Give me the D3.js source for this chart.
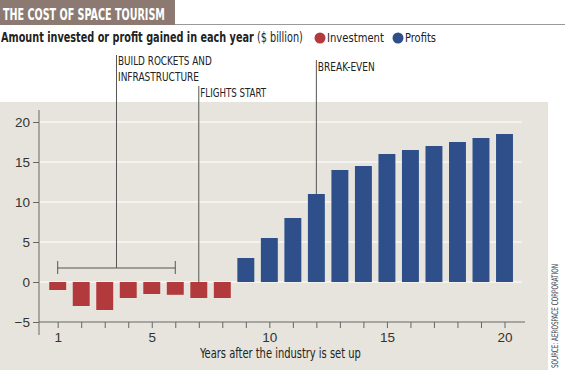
<!DOCTYPE html>
<html>
<head>
<meta charset="utf-8">
<script src="https://cdn.jsdelivr.net/npm/d3@7"></script>
<style>
  body { margin: 0; background: #fff; }
  svg { display: block; font-family: "DejaVu Sans Condensed", "Liberation Sans Narrow", sans-serif; }
</style>
</head>
<body>
<div id="chart"></div>
<script>
// Data
var years = d3.range(1, 21);
var values = [-1, -3, -3.5, -2, -1.5, -1.6, -2, -2, 3, 5.5, 8, 11, 14, 14.5, 16, 16.5, 17, 17.5, 18, 18.5];
var yTicks = [-5, 0, 5, 10, 15, 20];
var xLabels = [1, 5, 10, 15, 20];
var seriesNames = ["Investment", "Profits"];
var seriesColors = ["#b23a3c", "#2f4f8a"];

var width = 565;
var height = 370;

var svg = d3.select("#chart").append("svg")
  .attr("width", width)
  .attr("height", height);

// place a text at (x, y) and squeeze it horizontally to the width it has in print
function label(parent, x, y, w, size, rot) {
  var t = parent.append("text").attr("font-size", size).attr("fill", "#222");
  t.fit = function() {
    var natural = t.node().getComputedTextLength();
    var s = w / natural;
    t.attr("transform", "translate(" + x + "," + y + ")" +
      (rot ? " rotate(" + rot + ")" : "") + " scale(" + s + ",1)");
    return t;
  };
  return t;
}

// Header
svg.append("rect")
  .attr("x", 0).attr("y", 0)
  .attr("width", 175).attr("height", 25)
  .attr("fill", "#8c7a72");
svg.append("line")
  .attr("x1", 175).attr("x2", width)
  .attr("y1", 24.5).attr("y2", 24.5)
  .attr("stroke", "#9a9a9a");
label(svg, 3, 20, 162, 16)
  .attr("fill", "#fff")
  .attr("font-weight", "bold")
  .text("THE COST OF SPACE TOURISM")
  .fit();

var sub = label(svg, 1, 42, 302, 13.5);
sub.append("tspan").attr("font-weight", "bold").text("Amount invested or profit gained in each year");
sub.append("tspan").text(" ($ billion)");
sub.fit();

// Legend
var legend = svg.append("g").attr("class", "legend");
var legendX = [320, 398];
var legendW = [57, 31];
seriesNames.forEach(function(name, i) {
  legend.append("circle")
    .attr("cx", legendX[i]).attr("cy", 38)
    .attr("r", 5.5)
    .attr("fill", seriesColors[i]);
  label(legend, legendX[i] + 7, 42, legendW[i], 13).text(name).fit();
});

// Panel
svg.append("rect")
  .attr("x", 0).attr("y", 102)
  .attr("width", 548).attr("height", height - 102)
  .attr("fill", "#e6e4dc");

// Scales
var x = d3.scaleLinear().domain([1, 20]).range([57.7, 504.5]);
var step = x(2) - x(1);
var barW = step * 0.72;
var y = d3.scaleLinear().domain([-5, 20]).range([322, 122]);

// Grid
svg.append("g").selectAll("line")
  .data(yTicks.filter(function(d) { return d > -5; }))
  .join("line")
  .attr("x1", 39).attr("x2", 522)
  .attr("y1", function(d) { return y(d); })
  .attr("y2", function(d) { return y(d); })
  .attr("stroke", "#fff")
  .attr("stroke-width", 1.2);

// Bars
svg.append("g").selectAll("rect")
  .data(values)
  .join("rect")
  .attr("x", function(d, i) { return x(years[i]) - barW / 2; })
  .attr("width", barW)
  .attr("y", function(d) { return y(Math.max(0, d)); })
  .attr("height", function(d) { return Math.abs(y(d) - y(0)); })
  .attr("fill", function(d) { return d < 0 ? seriesColors[0] : seriesColors[1]; });

// Y axis
var yAxis = d3.axisLeft(y).tickValues(yTicks).tickSize(6).tickPadding(3).tickFormat(d3.format("d"));
var gy = svg.append("g").attr("transform", "translate(39,0)").call(yAxis);
gy.select(".domain").remove();
gy.append("line").attr("x1", 0).attr("x2", 0).attr("y1", 110).attr("y2", 335).attr("stroke", "#666");
gy.selectAll(".tick line").attr("stroke", "#666");
gy.selectAll(".tick text").attr("font-size", 13.5).attr("fill", "#333").attr("font-family", null);

// X axis
var xAxis = d3.axisBottom(x).tickValues(years).tickSize(6).tickPadding(4)
  .tickFormat(function(d) { return xLabels.indexOf(d) >= 0 ? d : ""; });
var gx = svg.append("g").attr("transform", "translate(0,322)").call(xAxis);
gx.select(".domain").remove();
gx.append("line").attr("x1", 39).attr("x2", 525).attr("y1", 0).attr("y2", 0).attr("stroke", "#666");
gx.selectAll(".tick line").attr("stroke", "#666");
gx.selectAll(".tick text").attr("font-size", 13.5).attr("fill", "#333").attr("font-family", null);

label(svg, 200, 358, 161, 13.5).text("Years after the industry is set up").fit();

// Annotations
var ann = svg.append("g").attr("stroke", "#555").attr("fill", "none");
// bracket over build phase
ann.append("line").attr("x1", x(1)).attr("x2", x(6)).attr("y1", 268).attr("y2", 268);
ann.append("line").attr("x1", x(1)).attr("x2", x(1)).attr("y1", 261).attr("y2", 274);
ann.append("line").attr("x1", x(6)).attr("x2", x(6)).attr("y1", 261).attr("y2", 274);
ann.append("line").attr("x1", x(3.5)).attr("x2", x(3.5)).attr("y1", 55).attr("y2", 268);
// flights start
ann.append("line").attr("x1", x(7)).attr("x2", x(7)).attr("y1", 86).attr("y2", y(0));
// break-even
ann.append("line").attr("x1", x(12)).attr("x2", x(12)).attr("y1", 60).attr("y2", y(values[11]));

function annText(xp, yp, lines, widths) {
  lines.forEach(function(s, i) {
    label(svg, xp, yp + i * 15.5, widths[i], 13).text(s).fit();
  });
}
annText(x(3.5) + 1.5, 65, ["BUILD ROCKETS AND", "INFRASTRUCTURE"], [94, 81]);
annText(x(7) + 1.5, 96.5, ["FLIGHTS START"], [66]);
annText(x(12) + 1.5, 70.5, ["BREAK-EVEN"], [57]);

// Source
label(svg, 558, 368, 104, 9, -90)
  .attr("fill", "#444")
  .text("SOURCE: AEROSPACE CORPORATION")
  .fit();
</script>
</body>
</html>
